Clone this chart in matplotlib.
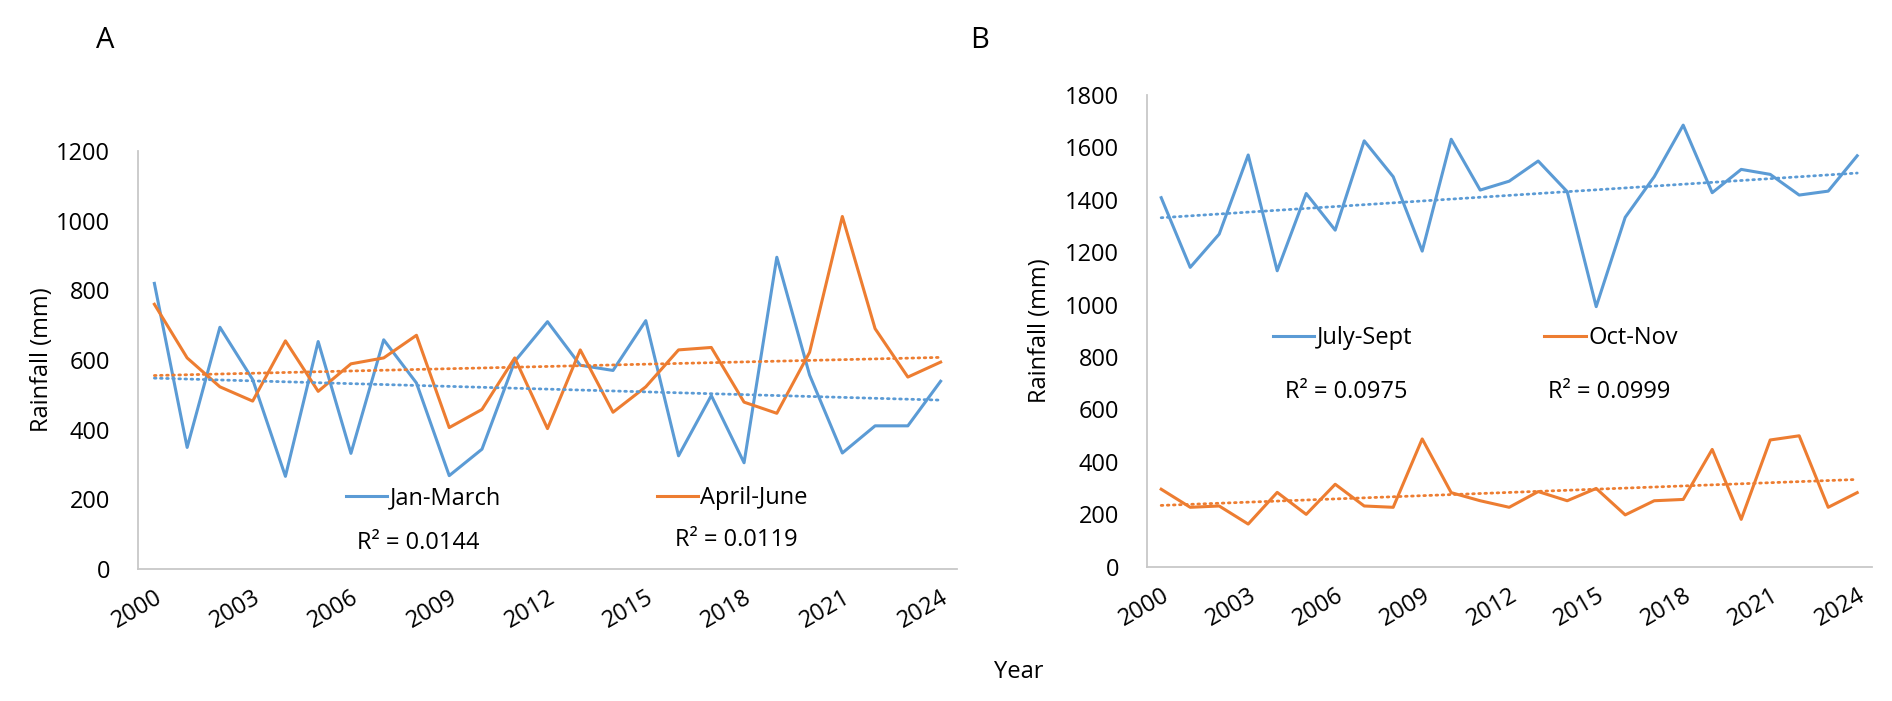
import numpy as np
import matplotlib
matplotlib.use("Agg")
import matplotlib.pyplot as plt

plt.rcParams['font.family'] = ['Open Sans', 'DejaVu Sans']

# seasonal rainfall (mm)
years = list(range(2000, 2025))
jan_march = [820, 349, 694, 544, 266, 653, 332, 658, 534, 268, 344, 596, 710,
             585, 570, 713, 325, 498, 305, 895, 557, 333, 411, 411, 539]
april_june = [760, 606, 523, 482, 655, 510, 589, 606, 671, 406, 458, 606, 403,
              629, 450, 523, 629, 636, 479, 447, 622, 1012, 690, 551, 594]
july_sept = [1408, 1142, 1269, 1571, 1129, 1424, 1284, 1625, 1488, 1204, 1631, 1437, 1471,
             1548, 1431, 992, 1333, 1488, 1685, 1427, 1516, 1497, 1418, 1433, 1568]
oct_nov = [295, 226, 231, 162, 283, 199, 314, 231, 226, 487, 282, 251, 226,
           286, 251, 298, 197, 251, 256, 447, 180, 483, 499, 226, 282]

r2_a = ["R² = 0.0144", "R² = 0.0119"]
r2_b = ["R² = 0.0975", "R² = 0.0999"]
xticks = list(range(2000, 2025, 3))

blue = "#5B9BD5"
orange = "#ED7D31"
W, H = 1892, 701

fig = plt.figure(figsize=(W / 100, H / 100), dpi=100)
axA = fig.add_axes([138 / W, 1 - 569 / H, (957 - 138) / W, (569 - 151) / H])
axB = fig.add_axes([1146.7 / W, 1 - 566.5 / H, (1871.7 - 1146.7) / W, (566.5 - 95) / H])


def trend(ax, y, color):
    k, b = np.polyfit(years, y, 1)
    yy = np.polyval([k, b], years)
    ax.plot(years, yy, color=color, lw=2, linestyle=(0, (0.6, 1.6)),
            dash_capstyle='round')


def style(ax, ymax):
    ax.set_xlim(1999.5, 2024.5)
    ax.set_ylim(0, ymax)
    ax.set_yticks(range(0, ymax + 1, 200))
    ax.set_xticks(xticks)
    ax.set_xticklabels([str(t) for t in xticks], rotation=30, ha='right',
                       va='top', rotation_mode='anchor')
    for s in ['top', 'right']:
        ax.spines[s].set_visible(False)
    for s in ['left', 'bottom']:
        ax.spines[s].set_color('#C8C8C8')
        ax.spines[s].set_linewidth(1.3)
    ax.tick_params(axis='both', length=0, labelsize=17)
    ax.tick_params(axis='y', pad=20)
    ax.tick_params(axis='x', pad=12)
    ax.set_ylabel("Rainfall (mm)", fontsize=17)


# panel A
l1, = axA.plot(years, jan_march, color=blue, lw=2.2, label="Jan-March")
l2, = axA.plot(years, april_june, color=orange, lw=2.2, label="April-June")
trend(axA, jan_march, blue)
trend(axA, april_june, orange)
style(axA, 1200)
axA.yaxis.set_label_coords(42 / W - 138 / W, 0.5, transform=None)
axA.yaxis.label.set_position((0, 0.5))
axA.legend(handles=[l1, l2], loc='center left', frameon=False, ncol=2,
           bbox_to_anchor=(346 / W, 1 - 498 / H), bbox_transform=fig.transFigure,
           fontsize=17, handlelength=1.75, handletextpad=0.1, columnspacing=6.6,
           borderpad=0, borderaxespad=0)
fig.text(357 / W, 1 - 543 / H, r2_a[0], fontsize=17, va='center', ha='left')
fig.text(675 / W, 1 - 540 / H, r2_a[1], fontsize=17, va='center', ha='left')

# panel B
l3, = axB.plot(years, july_sept, color=blue, lw=2.2, label="July-Sept")
l4, = axB.plot(years, oct_nov, color=orange, lw=2.2, label="Oct-Nov")
trend(axB, july_sept, blue)
trend(axB, oct_nov, orange)
style(axB, 1800)
axB.legend(handles=[l3, l4], loc='center left', frameon=False, ncol=2,
           bbox_to_anchor=(1273 / W, 1 - 338 / H), bbox_transform=fig.transFigure,
           fontsize=17, handlelength=1.75, handletextpad=0.1, columnspacing=5.6,
           borderpad=0, borderaxespad=0)
fig.text(1285 / W, 1 - 392 / H, r2_b[0], fontsize=17, va='center', ha='left')
fig.text(1548 / W, 1 - 392 / H, r2_b[1], fontsize=17, va='center', ha='left')

# y labels at fixed spots
axA.yaxis.set_label_coords(42 / W, 1 - 360 / H, transform=fig.transFigure)
axB.yaxis.set_label_coords(1040 / W, 1 - 331 / H, transform=fig.transFigure)
for ax in (axA, axB):
    ax.yaxis.label.set_va('center')

fig.text(105 / W, 1 - 40 / H, "A", fontsize=21, ha='center', va='center')
fig.text(980 / W, 1 - 40 / H, "B", fontsize=21, ha='center', va='center')
fig.text(1019 / W, 1 - 672 / H, "Year", fontsize=17, ha='center', va='center')

fig.savefig("out.png", dpi=100)
